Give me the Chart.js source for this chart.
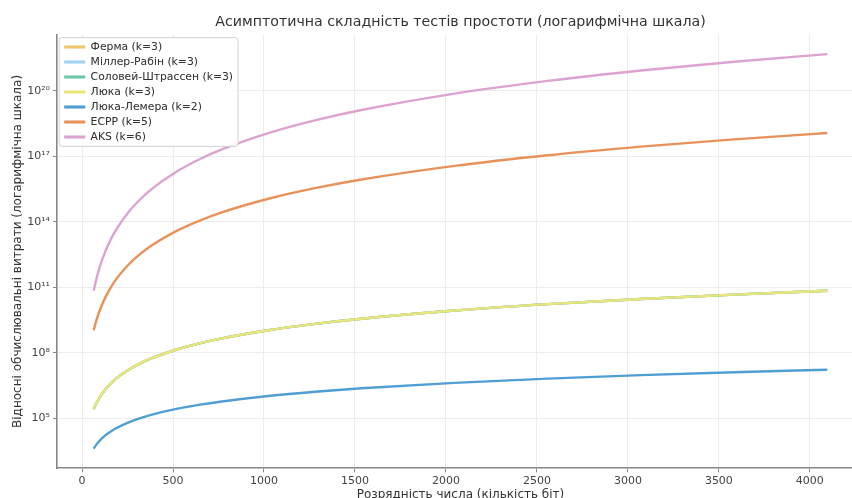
<!DOCTYPE html>
<html>
<head>
<meta charset="utf-8">
<script src="https://cdn.jsdelivr.net/npm/chart.js@4/dist/chart.umd.min.js"></script>
<style>
  html, body { margin: 0; padding: 0; background: #fff; overflow: hidden; }
  #wrap { width: 852px; height: 498px; overflow: hidden; position: relative; }
  canvas { display: block; filter: blur(0.35px); }
</style>
</head>
<body>
<div id="wrap"><canvas id="c" width="920" height="510"></canvas></div>
<script>
// Bit lengths (x positions of sampled points)
const bits = [64, 80, 96, 128, 160, 192, 256, 320, 384, 512, 640, 768, 1024, 1280, 1536, 2048, 2560, 3072, 3584, 4096];

// Relative computational cost (log scale)
const fermat          = [2.62e5, 5.12e5, 8.85e5, 2.10e6, 4.10e6, 7.08e6, 1.68e7, 3.28e7, 5.66e7, 1.34e8, 2.62e8, 4.53e8, 1.07e9, 2.10e9, 3.62e9, 8.59e9, 1.68e10, 2.90e10, 4.60e10, 6.87e10];
const millerRabin     = [2.62e5, 5.12e5, 8.85e5, 2.10e6, 4.10e6, 7.08e6, 1.68e7, 3.28e7, 5.66e7, 1.34e8, 2.62e8, 4.53e8, 1.07e9, 2.10e9, 3.62e9, 8.59e9, 1.68e10, 2.90e10, 4.60e10, 6.87e10];
const solovayStrassen = [2.62e5, 5.12e5, 8.85e5, 2.10e6, 4.10e6, 7.08e6, 1.68e7, 3.28e7, 5.66e7, 1.34e8, 2.62e8, 4.53e8, 1.07e9, 2.10e9, 3.62e9, 8.59e9, 1.68e10, 2.90e10, 4.60e10, 6.87e10];
const lucas           = [2.62e5, 5.12e5, 8.85e5, 2.10e6, 4.10e6, 7.08e6, 1.68e7, 3.28e7, 5.66e7, 1.34e8, 2.62e8, 4.53e8, 1.07e9, 2.10e9, 3.62e9, 8.59e9, 1.68e10, 2.90e10, 4.60e10, 6.87e10];
const lucasLehmer     = [4.10e3, 6.40e3, 9.22e3, 1.64e4, 2.56e4, 3.69e4, 6.55e4, 1.02e5, 1.47e5, 2.62e5, 4.10e5, 5.90e5, 1.05e6, 1.64e6, 2.36e6, 4.19e6, 6.55e6, 9.44e6, 1.28e7, 1.68e7];
const ecpp            = [1.07e9, 3.28e9, 8.15e9, 3.44e10, 1.05e11, 2.61e11, 1.10e12, 3.36e12, 8.35e12, 3.52e13, 1.07e14, 2.67e14, 1.13e15, 3.44e15, 8.55e15, 3.60e16, 1.10e17, 2.74e17, 5.91e17, 1.15e18];
const aks             = [6.87e10, 2.62e11, 7.83e11, 4.40e12, 1.68e13, 5.01e13, 2.81e14, 1.07e15, 3.21e15, 1.80e16, 6.87e16, 2.05e17, 1.15e18, 4.40e18, 1.31e19, 7.38e19, 2.81e20, 8.41e20, 2.12e21, 4.72e21];

const seriesNames = ['Ферма (k=3)', 'Міллер-Рабін (k=3)', 'Соловей-Штрассен (k=3)', 'Люка (k=3)', 'Люка-Лемера (k=2)', 'ECPP (k=5)', 'AKS (k=6)'];
const seriesValues = [fermat, millerRabin, solovayStrassen, lucas, lucasLehmer, ecpp, aks];
const seriesColors = ['#f2c46c', '#9fd3f3', '#6cc9a3', '#ebe57c', '#4f9fd4', '#e8925a', '#dca3d0'];

// Tick positions and labels
const xTicks = [0, 500, 1000, 1500, 2000, 2500, 3000, 3500, 4000];
const xTickLabels = ['0', '500', '1000', '1500', '2000', '2500', '3000', '3500', '4000'];
const yTicks = [1e5, 1e8, 1e11, 1e14, 1e17, 1e20];
const yTickLabels = ['10⁵', '10⁸', '10¹¹', '10¹⁴', '10¹⁷', '10²⁰'];

const chartTitle = 'Асимптотична складність тестів простоти (логарифмічна шкала)';
const xTitle = 'Розрядність числа (кількість біт)';
const yTitle = 'Відносні обчислювальні витрати (логарифмічна шкала)';

const FONT = '"DejaVu Sans", sans-serif';

const datasets = seriesNames.map((name, i) => ({
  label: name,
  data: bits.map((b, j) => ({ x: b, y: seriesValues[i][j] })),
  borderColor: seriesColors[i],
  backgroundColor: seriesColors[i],
  borderWidth: 2.4,
  pointRadius: 0,
  cubicInterpolationMode: 'monotone',
  fill: false,
  order: -i
}));

const placement = {
  id: 'placement',
  beforeDraw(chart) {
    const lg = chart.legend;
    if (lg) {
      const dx = chart.chartArea.left + 3 - lg.left;
      const dy = 37.4 - lg.top;
      lg.left += dx; lg.right += dx; lg.top += dy; lg.bottom += dy;
      (lg.legendHitBoxes || []).forEach(h => { h.left += dx; h.top += dy; });
    }
    if (chart.titleBlock) {
      chart.titleBlock.left = chart.chartArea.left;
      chart.titleBlock.right = chart.chartArea.right;
    }
  },
  afterDatasetsDraw(chart) {
    const lg = chart.legend;
    if (!lg || !lg.legendHitBoxes || !lg.legendHitBoxes.length) return;
    let l = Infinity, t = Infinity, r = -Infinity, b = -Infinity;
    lg.legendHitBoxes.forEach(h => {
      l = Math.min(l, h.left); t = Math.min(t, h.top);
      r = Math.max(r, h.left + h.width); b = Math.max(b, h.top + h.height);
    });
    l -= 5; t -= 4; r += 5; b += 4;
    const ctx = chart.ctx;
    ctx.save();
    ctx.beginPath();
    if (ctx.roundRect) ctx.roundRect(l, t, r - l, b - t, 3); else ctx.rect(l, t, r - l, b - t);
    ctx.fillStyle = 'rgba(255,255,255,0.85)';
    ctx.fill();
    ctx.lineWidth = 1;
    ctx.strokeStyle = '#d2d2d2';
    ctx.stroke();
    ctx.restore();
    lg.draw();
  }
};

new Chart(document.getElementById('c'), {
  type: 'line',
  data: { datasets },
  options: {
    responsive: false,
    devicePixelRatio: 1,
    animation: false,
    events: [],
    layout: { padding: { left: 0, right: 56, top: 0, bottom: 0 } },
    scales: {
      x: {
        type: 'linear',
        min: -137.6,
        max: 4297.6,
        afterBuildTicks: s => { s.ticks = xTicks.map(v => ({ value: v })); },
        afterFit: s => { s.height = 41.7; },
        grid: { color: '#ececec', lineWidth: 1, tickLength: 4, tickColor: '#888' },
        border: { display: true, color: '#888', width: 1.6 },
        ticks: {
          font: { family: FONT, size: 11 }, color: '#444', padding: 2, maxRotation: 0,
          callback: (v) => { const k = xTicks.indexOf(v); return k >= 0 ? xTickLabels[k] : ''; }
        },
        title: { display: true, text: xTitle, font: { family: FONT, size: 12 }, color: '#333', padding: { top: 0, bottom: 8 } }
      },
      y: {
        type: 'logarithmic',
        min: 513,
        max: 3.7e22,
        afterBuildTicks: s => { s.ticks = yTicks.map(v => ({ value: v })); },
        afterFit: s => { s.width = 57; },
        grid: { color: '#ececec', lineWidth: 1, tickLength: 4, tickColor: '#888' },
        border: { display: true, color: '#888', width: 1.6 },
        ticks: {
          font: { family: FONT, size: 11 }, color: '#444', padding: 3,
          callback: (v) => { const k = yTicks.indexOf(v); return k >= 0 ? yTickLabels[k] : ''; }
        },
        title: { display: true, text: yTitle, font: { family: FONT, size: 12 }, color: '#333', padding: { top: 11, bottom: 0 } }
      }
    },
    plugins: {
      title: {
        display: true,
        text: chartTitle,
        font: { family: FONT, size: 14.2, weight: 'normal' },
        color: '#333',
        padding: { top: 14, bottom: 3.56 }
      },
      legend: {
        position: 'chartArea',
        align: 'start',
        labels: {
          font: { family: FONT, size: 10.8 },
          color: '#333',
          boxWidth: 21,
          boxHeight: 3,
          padding: 4.2,
          generateLabels: (chart) => chart.data.datasets.map((ds, i) => ({
            text: ds.label,
            fillStyle: ds.borderColor,
            strokeStyle: ds.borderColor,
            lineWidth: 0,
            hidden: false,
            datasetIndex: i,
            fontColor: '#333'
          }))
        }
      },
      tooltip: { enabled: false }
    }
  },
  plugins: [placement]
});
</script>
</body>
</html>
